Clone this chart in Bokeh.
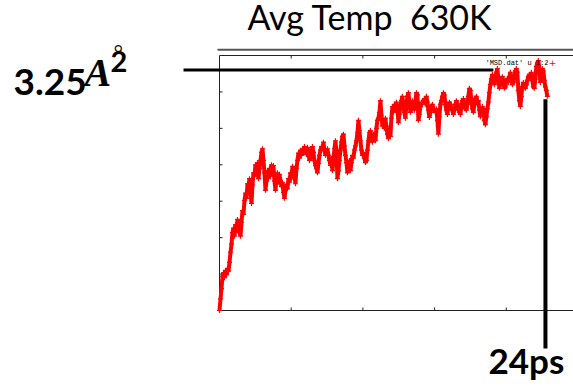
import math
from bokeh.plotting import figure
from bokeh.models import Label, Range1d, ColumnDataSource
from bokeh.embed import file_html
from bokeh.resources import INLINE

# ---- data (MSD in Angstrom^2 vs time in ps) ----
dt_ps = 0.0697
msd = [
    0.00, 0.16, 0.30, 0.47, 0.52, 0.45, 0.55, 0.49, 0.58, 0.54,
    0.66, 0.80, 0.91, 1.07, 1.13, 1.02, 1.18, 1.10, 1.25, 1.07,
    1.17, 1.02, 1.21, 1.37, 1.32, 1.51, 1.61, 1.54, 1.74, 1.70,
    1.81, 1.65, 1.47, 1.72, 1.89, 1.84, 2.00, 1.92, 2.03, 1.81,
    1.95, 2.06, 2.17, 2.22, 2.06, 1.89, 1.65, 1.78, 1.92, 1.81,
    1.95, 1.84, 2.00, 1.89, 1.99, 1.78, 1.65, 1.81, 1.89, 1.76,
    1.87, 1.78, 1.70, 1.76, 1.62, 1.54, 1.65, 1.73, 1.67, 1.81,
    1.76, 1.89, 1.81, 1.98, 1.92, 1.84, 1.74, 1.95, 2.06, 2.16,
    2.09, 2.20, 2.13, 2.22, 2.17, 2.25, 2.20, 2.14, 2.24, 2.17,
    2.06, 2.10, 2.20, 2.25, 2.17, 2.06, 1.99, 1.95, 1.89, 2.02,
    2.13, 2.20, 2.25, 2.22, 2.31, 2.20, 2.13, 2.17, 2.22, 2.13,
    2.06, 1.99, 2.09, 1.92, 2.06, 2.22, 2.33, 2.17, 1.81, 1.92,
    2.06, 2.20, 2.31, 2.39, 2.42, 2.26, 2.13, 2.03, 1.89, 1.95,
    2.06, 1.92, 2.03, 2.13, 2.09, 2.20, 2.26, 2.33, 2.44, 2.61,
    2.47, 2.33, 2.20, 2.13, 2.17, 2.09, 2.03, 2.06, 2.20, 2.33,
    2.44, 2.47, 2.36, 2.31, 2.42, 2.36, 2.33, 2.50, 2.61, 2.64,
    2.72, 2.88, 2.68, 2.53, 2.58, 2.50, 2.64, 2.53, 2.42, 2.36,
    2.50, 2.39, 2.64, 2.80, 2.72, 2.83, 2.75, 2.86, 2.77, 2.58,
    2.69, 2.81, 2.88, 2.94, 2.80, 2.72, 2.64, 2.83, 2.94, 2.99,
    2.86, 2.72, 2.80, 2.88, 2.83, 2.75, 2.88, 2.99, 2.96, 2.61,
    2.69, 2.80, 2.86, 2.83, 2.88, 2.91, 2.83, 2.94, 2.86, 2.75,
    2.65, 2.72, 2.80, 2.83, 2.75, 2.77, 2.72, 2.77, 2.61, 2.42,
    2.66, 2.83, 2.88, 2.94, 2.99, 2.96, 2.83, 2.75, 2.69, 2.80,
    2.86, 2.83, 2.77, 2.75, 2.69, 2.75, 2.83, 2.88, 2.84, 2.77,
    2.72, 2.69, 2.80, 2.88, 2.91, 2.83, 2.77, 2.75, 2.83, 2.94,
    3.05, 3.02, 2.88, 2.77, 2.72, 2.83, 2.91, 2.94, 2.83, 2.88,
    2.75, 2.66, 2.72, 2.80, 2.75, 2.61, 2.55, 2.66, 2.77, 2.86,
    2.99, 3.10, 3.18, 3.24, 3.16, 3.10, 3.18, 3.27, 3.32, 3.18,
    3.05, 3.13, 3.18, 3.21, 3.13, 3.05, 3.07, 3.16, 3.18, 3.13,
    3.21, 3.27, 3.18, 3.10, 3.13, 3.21, 3.29, 3.32, 3.27, 3.02,
    2.88, 2.80, 2.94, 3.07, 3.13, 3.07, 3.05, 3.10, 3.16, 3.21,
    3.24, 3.18, 3.27, 3.16, 3.07, 3.05, 3.18, 3.35, 3.40, 3.43,
    3.32, 3.13, 3.24, 3.32, 3.29, 3.16, 3.07, 3.02, 2.94,
]
time_ps = [round(i * dt_ps, 4) for i in range(len(msd))]

# gnuplot axis setup
x_min, x_max = 0, 25
y_min, y_max = 0, 3.5
x_ticks = [5, 10, 15, 20]
y_ticks = [0.5, 1.0, 1.5, 2.0, 2.5, 3.0]

title_text = "Avg Temp\u00a0 630K"
legend_text = "'MSD.dat' u 1:2"
msd_mark = 3.3      # annotated plateau level (3.25 A^2)
time_mark = 22.73   # annotated end time (24 ps)

# the whole slide region is one frame; the gnuplot box is drawn inside it
p = figure(width=573, height=387, output_backend="svg", toolbar_location=None,
           x_axis_type=None, y_axis_type=None,
           x_range=Range1d(-15.272, 24.686), y_range=Range1d(-1.057, 4.255),
           min_border=0)
p.outline_line_color = None
p.grid.visible = False
p.background_fill_color = "white"
p.border_fill_color = "white"

axis_col = "#222222"
# gnuplot border (left, bottom, top; right edge lies beyond the slide crop)
p.multi_line(xs=[[x_min, x_min], [x_min, x_max], [x_min, x_max]],
             ys=[[y_min, y_max], [y_min, y_min], [y_max, y_max]],
             line_color=axis_col, line_width=1)
# inward ticks
p.ray(x=x_ticks, y=[y_min] * len(x_ticks), length=3, length_units="screen",
      angle=math.pi / 2, line_color=axis_col, line_width=1)
p.ray(x=x_ticks, y=[y_max] * len(x_ticks), length=3, length_units="screen",
      angle=-math.pi / 2, line_color=axis_col, line_width=1)
p.ray(x=[x_min] * len(y_ticks), y=y_ticks, length=3, length_units="screen",
      angle=0, line_color=axis_col, line_width=1)

# separator line under the slide title
p.line(x=[-0.14, x_max], y=[3.58, 3.58], line_color="#555555", line_width=2)

src = ColumnDataSource(dict(t=time_ps, msd=msd))
p.line("t", "msd", source=src, color="red", line_width=4)
p.scatter("t", "msd", source=src, marker="cross", size=5, line_color="red", line_width=1.2)

# annotation lines
p.line(x=[-2.51, 19.1], y=[msd_mark, msd_mark], line_color="black", line_width=3)
p.line(x=[time_mark, time_mark], y=[2.90, -0.52], line_color="black", line_width=4)

p.add_layout(Label(x=1.95, y=3.75, text=title_text, text_font="Lato",
                   text_font_size="34px", text_color="black"))
p.add_layout(Label(x=-14.37, y=2.96, text="3.25", text_font="Lato", text_font_style="bold",
                   text_font_size="37px", text_color="black"))
p.add_layout(Label(x=-9.41, y=2.96, text="A", text_font="Liberation Serif",
                   text_font_style="bold italic", text_font_size="40px", text_color="black"))
p.add_layout(Label(x=-7.60, y=3.267, text="2", text_font="Lato", text_font_style="bold",
                   text_font_size="29px", text_color="black"))
p.add_layout(Label(x=-7.40, y=3.35, text="°", text_font="Liberation Serif",
                   text_font_size="24px", text_color="black"))
p.add_layout(Label(x=18.76, y=-0.961, text="24ps", text_font="Lato", text_font_style="bold",
                   text_font_size="35px", text_color="black"))
p.add_layout(Label(x=22.94, y=3.40, text=legend_text, text_font="Liberation Mono",
                   text_font_size="7px", text_align="right", text_baseline="middle",
                   text_color="black"))
p.add_layout(Label(x=23.22, y=3.40, text="+", text_font="DejaVu Sans",
                   text_font_size="9px", text_align="center", text_baseline="middle",
                   text_color="red"))

open("out.html", "w").write(file_html(p, INLINE))
